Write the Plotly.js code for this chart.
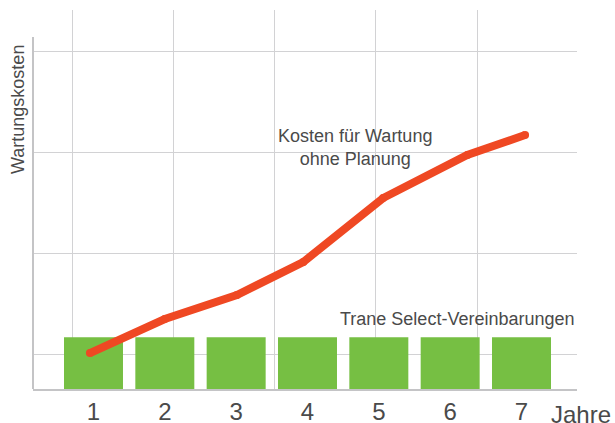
<!DOCTYPE html>
<html>
<head>
<meta charset="utf-8">
<script src="https://cdn.plot.ly/plotly-3.0.1.min.js"></script>
<style>html,body{margin:0;padding:0;background:#fff;}#chart{width:615px;height:423px;}</style>
</head>
<body>
<div id="chart"></div>
<script>
// Data
const years = [1, 2, 3, 4, 5, 6, 7];
const yearLabels = ['1', '2', '3', '4', '5', '6', '7'];
const agreementCost = [0.512, 0.512, 0.512, 0.512, 0.512, 0.512, 0.512];
const unplannedX = [0.95, 2.0, 3.01, 3.94, 5.06, 6.24, 7.05];
const unplannedCost = [0.356, 0.693, 0.931, 1.257, 1.891, 2.317, 2.515];

const FONT = 'Liberation Sans, Arial, sans-serif';
const GRID = '#d2d2d4';
const AXIS = '#c4c4c6';
const TEXT = '#4a4a4a';

const traces = [
  {
    type: 'bar',
    x: years,
    y: agreementCost,
    width: 0.827,
    marker: {color: '#76bf43', line: {width: 0}},
    hoverinfo: 'skip',
    showlegend: false
  },
  {
    type: 'scatter',
    mode: 'lines+markers',
    x: unplannedX,
    y: unplannedCost,
    line: {color: '#ef4823', width: 8},
    marker: {color: '#ef4823', size: 8, line: {width: 0}},
    hoverinfo: 'skip',
    showlegend: false
  },
  {
    type: 'scatter',
    mode: 'markers',
    x: [2],
    y: [1],
    xaxis: 'x2',
    marker: {opacity: 0},
    hoverinfo: 'skip',
    showlegend: false
  }
];

const layout = {
  width: 615,
  height: 423,
  margin: {l: 33, r: 38, t: 10, b: 34, autoexpand: false},
  paper_bgcolor: '#ffffff',
  plot_bgcolor: '#ffffff',
  font: {family: FONT, color: TEXT},
  showlegend: false,
  xaxis: {
    range: [0.152, 7.778],
    tickmode: 'array',
    tickvals: years,
    ticktext: yearLabels,
    tickfont: {size: 24, color: TEXT, family: FONT},
    ticks: '',
    showgrid: false,
    zeroline: false,
    showline: true,
    linecolor: AXIS,
    linewidth: 2,
    fixedrange: true
  },
  xaxis2: {
    overlaying: 'x',
    range: [-0.385, 4.985],
    tick0: 0,
    dtick: 1,
    showgrid: true,
    gridcolor: GRID,
    gridwidth: 1,
    showticklabels: false,
    ticks: '',
    zeroline: false,
    showline: false,
    side: 'bottom',
    fixedrange: true
  },
  yaxis: {
    range: [0, 3.7525],
    tick0: 0.3465,
    dtick: 1,
    showgrid: true,
    gridcolor: GRID,
    gridwidth: 1,
    showticklabels: false,
    ticks: '',
    zeroline: false,
    showline: false,
    fixedrange: true
  },
  shapes: [
    {type: 'line', xref: 'paper', yref: 'paper', x0: 0, x1: 0, y0: 0, y1: 0.9288,
     line: {color: AXIS, width: 2}}
  ],
  annotations: [
    {xref: 'paper', yref: 'paper', x: (355 - 33) / 544, y: (389 - 147) / 379,
     xanchor: 'center', yanchor: 'middle', showarrow: false, align: 'center',
     text: 'Kosten für Wartung<br>ohne Planung', font: {size: 18, color: TEXT, family: FONT}},
    {xref: 'paper', yref: 'paper', x: (456.5 - 33) / 544, y: (389 - 319) / 379,
     xanchor: 'center', yanchor: 'middle', showarrow: false,
     text: 'Trane Select-Vereinbarungen', font: {size: 18, color: TEXT, family: FONT}},
    {xref: 'paper', yref: 'paper', x: (18 - 33) / 544, y: (389 - 110) / 379,
     xanchor: 'center', yanchor: 'middle', showarrow: false, textangle: -90,
     text: 'Wartungskosten', font: {size: 18, color: TEXT, family: FONT}},
    {xref: 'paper', yref: 'paper', x: (549 - 33) / 544, y: (389 - 414) / 379,
     xanchor: 'left', yanchor: 'middle', showarrow: false,
     text: 'Jahre', font: {size: 24, color: TEXT, family: FONT}}
  ]
};

Plotly.newPlot('chart', traces, layout, {staticPlot: true, displayModeBar: false});
</script>
</body>
</html>
